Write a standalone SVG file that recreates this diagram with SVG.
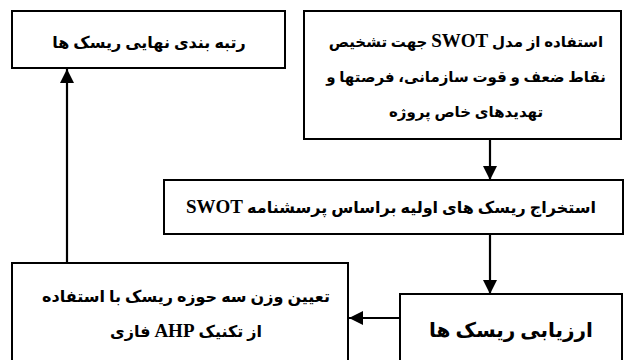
<svg xmlns="http://www.w3.org/2000/svg" width="625" height="360" viewBox="0 0 625 360">
<defs>
<style>
.box{fill:#fff;stroke:#000;stroke-width:2}
.t{font-family:"Liberation Serif","DejaVu Sans",serif;font-weight:bold;font-size:16px;fill:#000;text-anchor:middle;direction:rtl}
.s{font-size:15px}
.big{font-size:20px}
.lat{font-size:19px}
.c{stroke:#000;stroke-width:2.2;fill:none}
</style>
<marker id="ah" markerUnits="userSpaceOnUse" markerWidth="14" markerHeight="14" viewBox="0 0 14 14" refX="14" refY="7" orient="auto">
<path d="M0,0 L14,7 L0,14 Z" fill="#000"/>
</marker>
</defs>
<rect width="625" height="360" fill="#fff"/>
<g id="connectors">
<line class="c" x1="490" y1="139" x2="490" y2="180" marker-end="url(#ah)"/>
<line class="c" x1="490" y1="234" x2="490" y2="294" marker-end="url(#ah)"/>
<line class="c" x1="400" y1="318" x2="349" y2="318" marker-end="url(#ah)"/>
<line class="c" x1="67" y1="263" x2="67" y2="69" marker-end="url(#ah)"/>
</g>
<g id="n1">
<rect class="box" x="12" y="11" width="273" height="57"/>
<text class="t" x="149" y="48">رتبه بندی نهایی ریسک ها</text>
</g>
<g id="n2">
<rect class="box" x="304" y="11" width="317" height="128"/>
<text class="t s" x="466" y="47">استفاده از مدل <tspan class="lat">SWOT</tspan> جهت تشخیص</text>
<text class="t s" x="466" y="82">نقاط ضعف و قوت سازمانی، فرصتها و</text>
<text class="t s" x="466" y="117">تهدیدهای خاص پروژه</text>
</g>
<g id="n3">
<rect class="box" x="164" y="180" width="459" height="54"/>
<text class="t" x="391" y="213">استخراج ریسک های اولیه براساس پرسشنامه <tspan class="lat">SWOT</tspan></text>
</g>
<g id="n4">
<rect class="box" x="12" y="263" width="336" height="105"/>
<text class="t" x="186" y="302">تعیین وزن سه حوزه ریسک با استفاده</text>
<text class="t" x="186" y="337">از تکنیک <tspan class="lat">AHP</tspan> فازی</text>
</g>
<g id="n5">
<rect class="box" x="400" y="294" width="222" height="74"/>
<text class="t big" x="511" y="337">ارزیابی ریسک ها</text>
</g>
</svg>
